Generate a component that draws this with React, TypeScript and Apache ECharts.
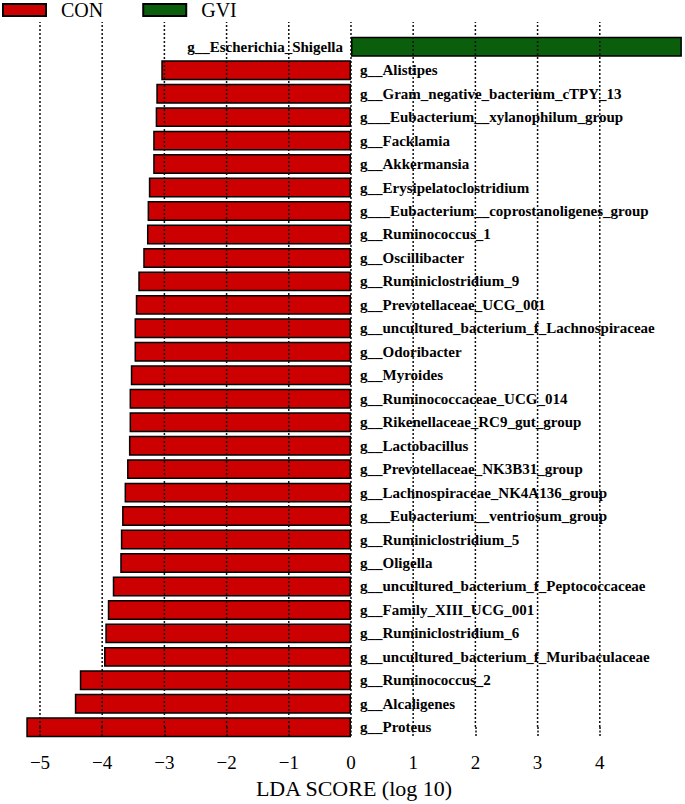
import React, { useEffect, useRef } from 'react';
import * as echarts from 'echarts';

const categories = [
  'g__Escherichia_Shigella',
  'g__Alistipes',
  'g__Gram_negative_bacterium_cTPY_13',
  'g___Eubacterium__xylanophilum_group',
  'g__Facklamia',
  'g__Akkermansia',
  'g__Erysipelatoclostridium',
  'g___Eubacterium__coprostanoligenes_group',
  'g__Ruminococcus_1',
  'g__Oscillibacter',
  'g__Ruminiclostridium_9',
  'g__Prevotellaceae_UCG_001',
  'g__uncultured_bacterium_f_Lachnospiraceae',
  'g__Odoribacter',
  'g__Myroides',
  'g__Ruminococcaceae_UCG_014',
  'g__Rikenellaceae_RC9_gut_group',
  'g__Lactobacillus',
  'g__Prevotellaceae_NK3B31_group',
  'g__Lachnospiraceae_NK4A136_group',
  'g___Eubacterium__ventriosum_group',
  'g__Ruminiclostridium_5',
  'g__Oligella',
  'g__uncultured_bacterium_f_Peptococcaceae',
  'g__Family_XIII_UCG_001',
  'g__Ruminiclostridium_6',
  'g__uncultured_bacterium_f_Muribaculaceae',
  'g__Ruminococcus_2',
  'g__Alcaligenes',
  'g__Proteus',
];

const conValues: (number | null)[] = [
  null, -3.05, -3.13, -3.14, -3.18, -3.18, -3.25, -3.27, -3.28, -3.34,
  -3.42, -3.46, -3.48, -3.48, -3.54, -3.56, -3.56, -3.57, -3.60, -3.64,
  -3.68, -3.70, -3.71, -3.83, -3.91, -3.95, -3.97, -4.36, -4.44, -5.22,
];

const gviValues: (number | null)[] = [
  5.32, null, null, null, null, null, null, null, null, null,
  null, null, null, null, null, null, null, null, null, null,
  null, null, null, null, null, null, null, null, null, null,
];

const tickValues = [-5, -4, -3, -2, -1, 0, 1, 2, 3, 4];

const X_MIN = -5.257;
const X_MAX = 5.354;
const GRID_LEFT = 24;
const GRID_RIGHT = 1;
const ZERO_PX = GRID_LEFT + ((0 - X_MIN) / (X_MAX - X_MIN)) * (685 - GRID_LEFT - GRID_RIGHT);
const FONT = '"Liberation Serif", "Times New Roman", serif';

const boxStyle: React.CSSProperties = {
  position: 'absolute',
  left: 0,
  top: 0,
  width: 685,
  height: 804,
};

export default function App() {
  const barRef = useRef<HTMLDivElement>(null);
  const gridRef = useRef<HTMLDivElement>(null);

  useEffect(() => {
    const bars = echarts.init(barRef.current!, null, { renderer: 'svg' });
    bars.setOption({
      animation: false,
      backgroundColor: '#ffffff',
      legend: {
        data: ['CON', 'GVI'],
        left: 2,
        top: 0,
        padding: 0,
        icon: 'rect',
        itemWidth: 43,
        itemHeight: 12,
        itemGap: 39,
        textStyle: { fontFamily: FONT, fontSize: 20, color: '#000', padding: [0, 0, 0, 10] },
      },
      grid: { left: GRID_LEFT, right: GRID_RIGHT, top: 35, height: 704 },
      xAxis: { type: 'value', min: X_MIN, max: X_MAX, show: false },
      yAxis: {
        type: 'category',
        data: categories,
        inverse: true,
        position: 'left',
        offset: -(ZERO_PX - GRID_LEFT),
        axisLine: { show: false, onZero: false },
        axisTick: { show: false },
        splitLine: { show: false },
        axisLabel: {
          inside: true,
          margin: 9,
          interval: 0,
          formatter: (v: string, i: number) => (gviValues[i] != null ? '' : v),
          fontFamily: FONT,
          fontSize: 15,
          fontWeight: 'bold',
          color: '#000',
        },
      },
      series: [
        {
          name: 'CON',
          type: 'bar',
          stack: 'lda',
          data: conValues,
          barCategoryGap: '15%',
          itemStyle: { color: '#CC0000', borderColor: '#000', borderWidth: 1.5 },
        },
        {
          name: 'GVI',
          type: 'bar',
          stack: 'lda',
          data: gviValues,
          barCategoryGap: '15%',
          itemStyle: { color: '#0B5E0B', borderColor: '#000', borderWidth: 1.5 },
          label: {
            show: true,
            position: 'left',
            distance: 8,
            formatter: (p: any) => p.name,
            fontFamily: FONT,
            fontSize: 15,
            fontWeight: 'bold',
            color: '#000',
          },
        },
      ],
    });

    const grid = echarts.init(gridRef.current!, null, { renderer: 'svg' });
    grid.setOption({
      animation: false,
      backgroundColor: 'transparent',
      grid: { left: GRID_LEFT, right: GRID_RIGHT, top: 22, height: 718 },
      xAxis: {
        type: 'value',
        min: X_MIN,
        max: X_MAX,
        offset: 7,
        axisLine: { show: false },
        splitLine: { show: false },
        axisTick: {
          show: true,
          customValues: tickValues,
          length: 9,
          lineStyle: { color: '#111', width: 1.5, type: [2, 1.5] },
        },
        axisLabel: {
          customValues: tickValues,
          formatter: (v: number) => String(v).replace('-', '\u2212'),
          margin: 19,
          fontFamily: FONT,
          fontSize: 19,
          color: '#000',
        },
        name: 'LDA SCORE (log 10)',
        nameLocation: 'middle',
        nameGap: 42,
        nameTextStyle: { fontFamily: FONT, fontSize: 22, color: '#000' },
      },
      yAxis: { type: 'value', min: 0, max: 1, show: false },
      series: [
        {
          type: 'custom',
          silent: true,
          clip: false,
          data: tickValues.map((v) => [v, 0]),
          encode: { x: 0, y: 1 },
          renderItem: (params: any, api: any) => {
            const v = api.value(0);
            const p1 = api.coord([v, 0]);
            const p2 = api.coord([v, 1]);
            return {
              type: 'line',
              shape: { x1: p1[0], y1: p1[1], x2: p2[0], y2: p2[1] },
              style: { stroke: '#111', lineWidth: 1.5, lineDash: [2, 2] },
            };
          },
        },
      ],
    });

    return () => {
      bars.dispose();
      grid.dispose();
    };
  }, []);

  return (
    <div style={{ position: 'absolute', left: 0, top: 0, width: 685, height: 804 }}>
      <div ref={barRef} style={boxStyle} />
      <div ref={gridRef} style={{ ...boxStyle, pointerEvents: 'none' }} />
    </div>
  );
}
